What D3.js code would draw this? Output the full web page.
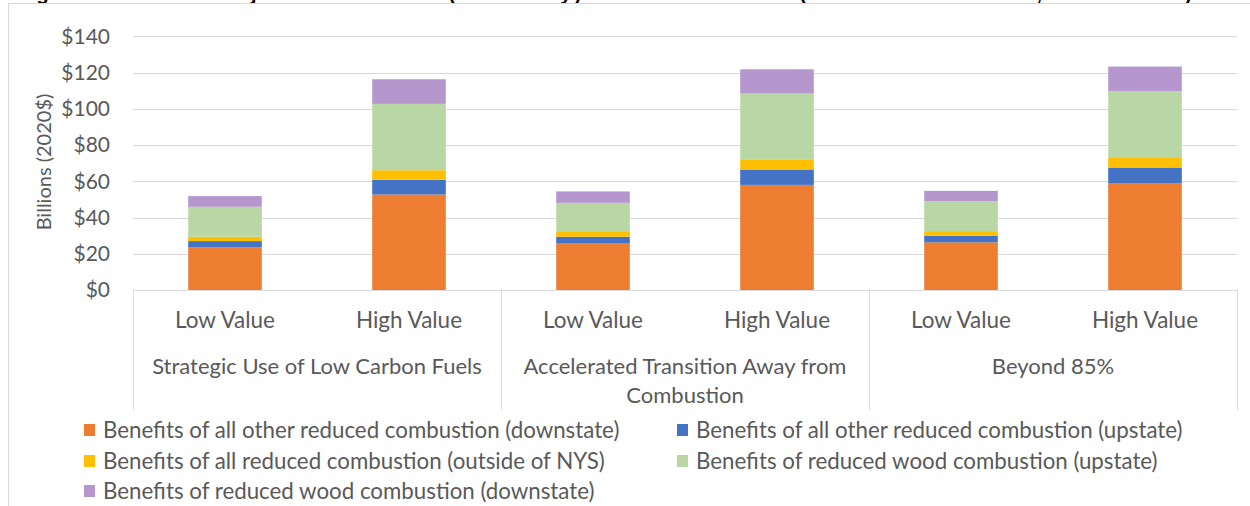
<!DOCTYPE html>
<html><head><meta charset="utf-8">
<script src="https://cdn.jsdelivr.net/npm/d3@7"></script>
<style>
html,body{margin:0;padding:0;background:#fff;}
svg{display:block;font-family:Lato, "Open Sans", sans-serif;}
</style></head>
<body>
<svg id="chart" width="1250" height="506"></svg>
<script>
// ---- data ----
const scenarios = ["Strategic Use of Low Carbon Fuels", "Accelerated Transition Away from Combustion", "Beyond 85%"];
const valueLevels = ["Low Value", "High Value"];
const seriesNames = [
  "Benefits of all other reduced combustion (downstate)",
  "Benefits of all other reduced combustion (upstate)",
  "Benefits of all reduced combustion (outside of NYS)",
  "Benefits of reduced wood combustion (upstate)",
  "Benefits of reduced wood combustion (downstate)"
];
const otherDownstate = [23.5, 52.7, 25.9, 58.0, 26.3, 59.0];
const otherUpstate   = [3.5, 8.1, 3.5, 8.5, 3.6, 8.6];
const outsideNYS     = [2.4, 5.3, 2.6, 5.3, 2.6, 5.7];
const woodUpstate    = [16.5, 36.6, 16.1, 36.6, 16.4, 36.4];
const woodDownstate  = [5.9, 13.6, 6.3, 13.4, 5.8, 13.6];
const yTicks = [0, 20, 40, 60, 80, 100, 120, 140];
const seriesColors = ["#ED7D31", "#4472C4", "#FFC000", "#B9D7A5", "#B597CE"];
const titleText = "Figure 6. Total Projected Avoided (Monetary) Health Benefits (Net Present Value, 2020\u20132050)";

// ---- build table ----
const seriesArrays = [otherDownstate, otherUpstate, outsideNYS, woodUpstate, woodDownstate];
const rows = [];
scenarios.forEach((s, si) => valueLevels.forEach((v, vi) => {
  const i = si * 2 + vi;
  const r = {id: i, scenario: s, level: v};
  seriesNames.forEach((n, k) => r[n] = seriesArrays[k][i]);
  rows.push(r);
}));

const svg = d3.select("#chart");
const textColor = "#595959";
const gridColor = "#D9D9D9";
const plotLeft = 133, plotRight = 1237, plotTop = 36.3, plotBottom = 290;

// outer frame + title (clipped at the top edge, as in the source image)
svg.append("text").attr("x", 12).attr("y", 0)
  .attr("font-family", "Liberation Sans, Arial, sans-serif")
  .attr("font-weight", "bold").attr("font-size", 20).attr("fill", "#000")
  .attr("textLength", 1180).attr("lengthAdjust", "spacing")
  .text(titleText);
svg.append("line").attr("x1", 8).attr("x2", 1250).attr("y1", 3.5).attr("y2", 3.5).attr("stroke", gridColor);
svg.append("line").attr("x1", 8.5).attr("x2", 8.5).attr("y1", 3).attr("y2", 506).attr("stroke", gridColor);

const x = d3.scaleBand().domain(rows.map(d => d.id)).range([plotLeft, plotRight]).paddingInner(0.6).paddingOuter(0.3);
const y = d3.scaleLinear().domain([0, 140]).range([plotBottom, plotTop]);

// gridlines
svg.append("g").selectAll("line").data(yTicks).join("line")
  .attr("x1", plotLeft).attr("x2", plotRight)
  .attr("y1", d => Math.round(y(d)) + 0.5).attr("y2", d => Math.round(y(d)) + 0.5)
  .attr("stroke", gridColor).attr("stroke-width", 1);

// y axis labels
const yAxis = d3.axisLeft(y).tickValues(yTicks).tickFormat(d => "$" + d).tickSize(0).tickPadding(0);
const yg = svg.append("g").attr("transform", `translate(110,0)`).call(yAxis);
yg.select(".domain").remove();
yg.selectAll("text").attr("font-family", "Lato, sans-serif").attr("font-size", 21).attr("fill", textColor);

svg.append("text").attr("transform", `translate(51,162) rotate(-90)`)
  .attr("text-anchor", "middle").attr("font-size", 20).attr("fill", textColor)
  .text("Billions (2020$)");

// stacked bars
const stack = d3.stack().keys(seriesNames);
const stacked = stack(rows);
svg.append("g").selectAll("g").data(stacked).join("g")
  .attr("fill", (d, i) => seriesColors[i])
  .selectAll("rect").data(d => d).join("rect")
  .attr("x", d => x(d.data.id))
  .attr("width", x.bandwidth())
  .attr("y", d => y(d[1]))
  .attr("height", d => y(d[0]) - y(d[1]));

// category axis: baseline + group separators
svg.append("line").attr("x1", plotLeft).attr("x2", plotRight).attr("y1", plotBottom + 0.5).attr("y2", plotBottom + 0.5).attr("stroke", gridColor);
const groupWidth = (plotRight - plotLeft) / scenarios.length;
const seps = d3.range(scenarios.length + 1).map(i => plotLeft + i * groupWidth);
svg.append("g").selectAll("line").data(seps).join("line")
  .attr("x1", d => Math.round(d) + 0.5).attr("x2", d => Math.round(d) + 0.5)
  .attr("y1", plotBottom).attr("y2", 410).attr("stroke", gridColor);

// level labels
svg.append("g").selectAll("text").data(rows).join("text")
  .attr("x", d => x(d.id) + x.bandwidth() / 2).attr("y", 328)
  .attr("text-anchor", "middle").attr("font-size", 22.5).attr("fill", textColor)
  .text(d => d.level);

// scenario labels with wrapping
const sg = svg.append("g");
const catSize = 22;
scenarios.forEach((s, i) => {
  const cx = plotLeft + (i + 0.5) * groupWidth;
  const t = sg.append("text").attr("text-anchor", "middle").attr("font-size", catSize).attr("fill", textColor);
  const words = s.split(" ");
  let line = [], lines = [];
  const probe = sg.append("text").attr("font-size", catSize);
  words.forEach(w => {
    const test = line.concat([w]).join(" ");
    probe.text(test);
    if (probe.node().getComputedTextLength() > groupWidth - 6 && line.length) {
      lines.push(line.join(" "));
      line = [w];
    } else line.push(w);
  });
  lines.push(line.join(" "));
  probe.remove();
  lines.forEach((l, j) => t.append("tspan").attr("x", cx).attr("y", 374 + j * 29).text(l));
});

// legend
const legendPos = [[84, 430], [677, 430], [84, 461], [677, 461], [84, 491]];
const lg = svg.append("g");
seriesNames.forEach((n, i) => {
  const [lx, ly] = legendPos[i];
  lg.append("rect").attr("x", lx).attr("y", ly - 6).attr("width", 11).attr("height", 12).attr("fill", seriesColors[i]);
  lg.append("text").attr("x", lx + 19).attr("y", ly + 7.5).attr("font-size", 22.3).attr("fill", textColor).text(n);
});
</script>
</body></html>
